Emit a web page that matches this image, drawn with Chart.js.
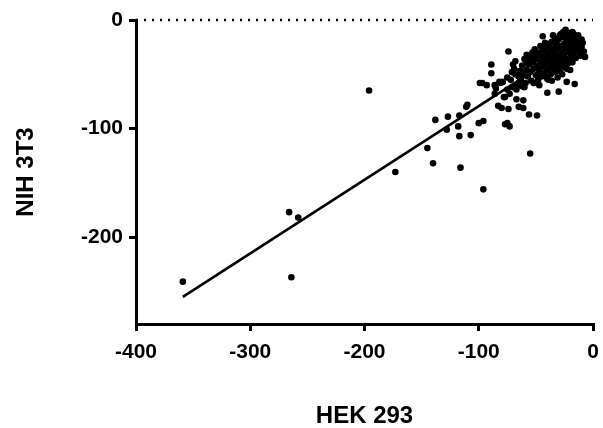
<!DOCTYPE html>
<html>
<head>
<meta charset="utf-8">
<script src="https://cdn.jsdelivr.net/npm/chart.js@4"></script>
<style>
html,body{margin:0;padding:0;background:#fff;}
#wrap{width:603px;height:428px;position:relative;}
</style>
</head>
<body>
<div id="wrap"><canvas id="c" width="603" height="428"></canvas></div>
<script>
// HEK 293 (x) and NIH 3T3 (y) values
const hek293 = [
  -359,-266,-258,-264,-196,-173,-145,-140,-138,-127,-128,-117,-118,-117,-116,-111,-110,-107,-100,-96,
  -96,-86,-83,-80,-78,-77,-75,-74,-65,-61,-56,-49,-55,-74,-89,-89,-79,-81,-86,-71,
  -68,-70,-58,-52,-57,-44,-24,-40,-30,-23,-16,-7,-11,-99,-93,-73,-77,-73,-97,-75,
  -67,-61,-67,-52,-41,-64,-62,-85,-29,-13,-17,-9,-51,-58,-23,-27,-40,-72,-68,-66,
  -70,-75,-69,-82,
  -64,-63,-62,-61,-60,-59,-58,-57,-56,-55,-55,-54,-53,-52,-51,-50,-50,-49,-48,-48,
  -47,-46,-46,-45,-45,-44,-43,-43,-42,-42,-41,-40,-40,-39,-39,-38,-38,-37,-37,-36,
  -36,-35,-35,-34,-34,-33,-33,-32,-32,-31,-31,-30,-30,-29,-29,-28,-28,-27,-27,-26,
  -26,-25,-25,-24,-24,-23,-23,-22,-22,-21,-21,-20,-20,-19,-19,-18,-18,-17,-17,-16,
  -16,-15,-15,-14,-14,-13,-12,-12,-11,-10,-10,-9,-8,-26,-33,-38,-44,-49,-53,-58,
  -62,-65,-60,-47,-36,-31,-20,-28,-22,-18,-35
];
const nih3t3 = [
  -241,-177,-182,-237,-65,-140,-118,-132,-92,-89,-101,-88,-98,-107,-136,-80,-78,-106,-95,-93,
  -156,-68,-79,-81,-71,-96,-95,-82,-80,-81,-87,-88,-123,-29,-41,-49,-57,-58,-60,-48,
  -38,-41,-32,-31,-38,-15,-9,-67,-66,-57,-59,-34,-28,-58,-60,-68,-71,-98,-58,-64,
  -73,-74,-64,-58,-52,-57,-61,-63,-14,-14,-20,-32,-32,-40,-45,-50,-54,-55,-50,-60,
  -62,-53,-45,-57,
  -47,-55,-42,-51,-36,-58,-46,-52,-41,-34,-48,-56,-39,-45,-27,-51,-36,-42,-30,-55,
  -47,-24,-38,-33,-52,-43,-28,-49,-36,-21,-40,-31,-46,-25,-55,-35,-43,-29,-50,-20,
  -38,-33,-45,-26,-41,-30,-48,-22,-37,-43,-27,-33,-18,-40,-47,-24,-35,-29,-42,-16,
  -37,-22,-31,-44,-27,-19,-36,-25,-40,-12,-30,-22,-35,-17,-28,-39,-24,-31,-13,-26,
  -20,-35,-16,-24,-29,-19,-27,-22,-33,-18,-25,-21,-29,-11,-17,-22,-26,-33,-30,-37,
  -48,-52,-62,-60,-56,-53,-46,-13,-15,-11,-14
];
// linear fit line (end points) and zero reference line
const fitX = [-359, -8];
const fitY = [-255, -17];
const zeroX = [-400, 0];
const zeroY = [0, 0];
const xTicks = [-400, -300, -200, -100, 0];
const yTicks = [-200, -100, 0];

const pts = hek293.map((x, i) => ({x: x, y: nih3t3[i]}));
const fit = fitX.map((x, i) => ({x: x, y: fitY[i]}));
const zero = zeroX.map((x, i) => ({x: x, y: zeroY[i]}));

const tickFont = {family: '"Liberation Sans", Arial, sans-serif', size: 21, weight: 'bold'};
const titleFont = {family: '"Liberation Sans", Arial, sans-serif', size: 24, weight: 'bold', lineHeight: 1};

new Chart(document.getElementById('c'), {
  type: 'scatter',
  data: {
    datasets: [
      {data: pts, pointRadius: 3.3, pointHoverRadius: 3.3, backgroundColor: '#000', borderWidth: 0, order: 1},
      {data: fit, showLine: true, borderColor: '#000', borderWidth: 2.6, pointRadius: 0, order: 2},
      {data: zero, showLine: true, borderColor: '#000', borderWidth: 2.4, borderDash: [2, 6], borderCapStyle: 'butt', pointRadius: 0, clip: false, order: 3}
    ]
  },
  options: {
    responsive: false,
    animation: false,
    events: [],
    layout: {padding: {left: 0, right: 10, top: 20, bottom: 0}},
    plugins: {legend: {display: false}, tooltip: {enabled: false}},
    scales: {
      x: {
        type: 'linear', min: -400, max: 0,
        afterBuildTicks: (s) => { s.ticks = xTicks.map(v => ({value: v})); },
        afterFit: (s) => { s.height = 104; s.paddingLeft = 0; s.paddingRight = 0; },
        border: {display: true, color: '#000', width: 3},
        grid: {display: true, drawOnChartArea: false, drawTicks: true, tickLength: 7, lineWidth: 3, color: '#000'},
        ticks: {color: '#000', font: tickFont, padding: 9, maxRotation: 0},
        title: {display: true, text: 'HEK 293', color: '#000', font: titleFont, padding: {top: 0, bottom: 0}}
      },
      y: {
        type: 'linear', min: -280, max: 0,
        afterBuildTicks: (s) => { s.ticks = yTicks.map(v => ({value: v})); },
        afterFit: (s) => { s.width = 136; s.paddingTop = 0; s.paddingBottom = 0; },
        border: {display: true, color: '#000', width: 3},
        grid: {display: true, drawOnChartArea: false, drawTicks: true, tickLength: 7, lineWidth: 3, color: '#000'},
        ticks: {color: '#000', font: tickFont, padding: 6},
        title: {display: true, text: 'NIH 3T3', color: '#000', font: titleFont, padding: {top: 14, bottom: 0}}
      }
    }
  }
});
</script>
</body>
</html>
